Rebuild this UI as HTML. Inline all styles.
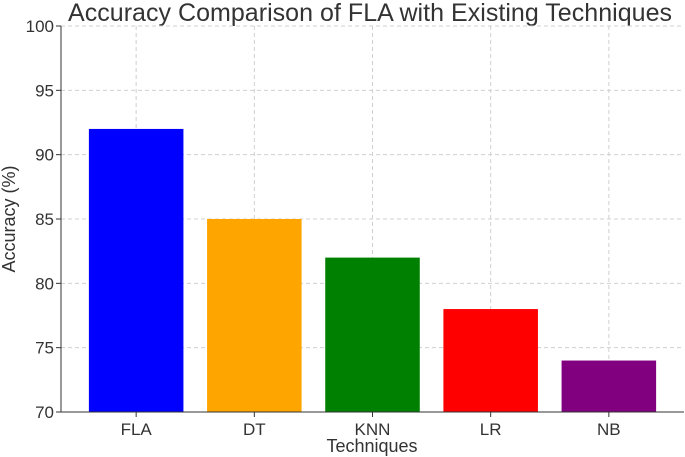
<!DOCTYPE html>
<html><head><meta charset="utf-8"><style>
body{margin:0;background:#fff;}
svg{display:block;font-family:"Liberation Sans","DejaVu Sans",sans-serif;}
</style></head><body>
<svg id="chart" width="685" height="457">
<text x="370" y="21" text-anchor="middle" font-size="25" fill="#333" textLength="604">Accuracy Comparison of FLA with Existing Techniques</text>
<text transform="translate(15,219) rotate(-90)" text-anchor="middle" font-size="18" fill="#333">Accuracy (%)</text>
<text x="372" y="452" text-anchor="middle" font-size="18" fill="#333">Techniques</text>
<g id="grid"></g><g id="bars"></g><g id="axes"></g>
</svg>
<script>
const categories=["FLA","DT","KNN","LR","NB"];
const accuracy=[92,85,82,78,74];
const barColors=["#0000ff","#ffa500","#008000","#ff0000","#800080"];
const yTicks=[70,75,80,85,90,95,100];
const NS="http://www.w3.org/2000/svg";
const L=61,R=684,T=26,B=412,yMin=70,yMax=100;
const n=categories.length;
const xMin=-0.636,xMax=n-1+0.636;
function x(i){return L+(i-xMin)/(xMax-xMin)*(R-L);}
function y(v){return B-(v-yMin)/(yMax-yMin)*(B-T);}
const bw=0.8*(x(1)-x(0));
function mk(tag,attrs,parent){const e=document.createElementNS(NS,tag);for(const k in attrs)e.setAttribute(k,attrs[k]);document.getElementById(parent).appendChild(e);return e;}
yTicks.forEach(t=>{
 const g=mk("line",{x1:L,x2:R,y1:y(t),y2:y(t),stroke:"#d0d0d0","stroke-dasharray":"4,3","stroke-width":1},"grid");
 
 
 const tk=mk("line",{x1:L-5,x2:L,y1:y(t),y2:y(t),stroke:"#333"},"axes");
 
 
 const lb=mk("text",{x:L-7,y:y(t)+6,"text-anchor":"end","font-size":17,fill:"#333"},"axes");
 lb.textContent=t;
 
 
});
categories.forEach((c,i)=>{
 const g=mk("line",{x1:x(i),x2:x(i),y1:T,y2:B,stroke:"#d0d0d0","stroke-dasharray":"4,3"},"grid");
 
 
 const r=mk("rect",{x:x(i)-bw/2,y:y(accuracy[i]),width:bw,height:B-y(accuracy[i]),fill:barColors[i]},"bars");
 
 
 const tk=mk("line",{x1:x(i),x2:x(i),y1:B,y2:B+5,stroke:"#333"},"axes");
 
 
 const lb=mk("text",{x:x(i),y:B+23,"text-anchor":"middle","font-size":17,fill:"#333"},"axes");
 lb.textContent=c;
 
 
});
const ax=mk("path",{d:`M${L},${T}V${B}H${R}`,fill:"none",stroke:"#333","stroke-width":1},"axes");


</script>
</body></html>
